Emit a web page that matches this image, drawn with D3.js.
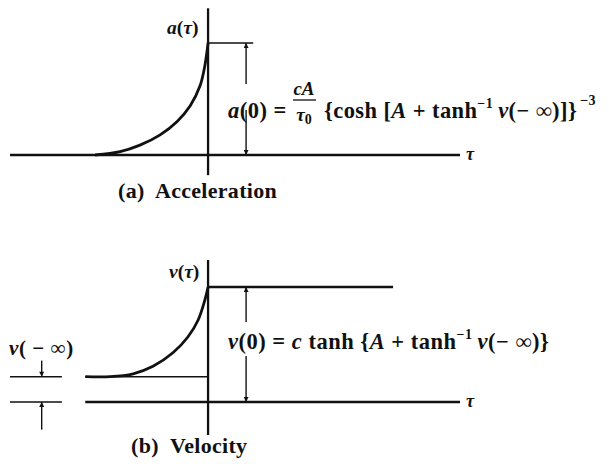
<!DOCTYPE html>
<html>
<head>
<meta charset="utf-8">
<script src="https://cdn.jsdelivr.net/npm/d3@7"></script>
<style>
  html, body { margin: 0; padding: 0; background: #fff; }
  svg { display: block; }
</style>
</head>
<body>
<svg id="chart" width="609" height="464"></svg>
<script>
// Proper time τ (in units of τ0) where the sampled curves are read
const accelTau = [-2.85, -2.22, -1.72, -1.21, -0.78, -0.45, -0.2, -0.08, 0];
// Normalised acceleration a(τ)/a(0)
const accelVal = [0, 0.03, 0.088, 0.18, 0.3, 0.44, 0.62, 0.8, 1];

const velTau = [-3.1, -2.47, -1.89, -1.39, -0.88, -0.51, -0.25, -0.08, 0];
// Normalised velocity v(τ)/v(0)
const velVal = [0.22, 0.22, 0.245, 0.31, 0.43, 0.565, 0.713, 0.887, 1];

const vMinusInf = 0.22;          // initial velocity level v(−∞)
const tauRange = [-5, 6.36];     // horizontal extent of the τ axes
const velAxisStart = -3.1;       // τ where the velocity axis line begins
const accelTopEnd = 1.14;        // end of the a(0) reference line
const velTopEnd = 4.67;          // end of the v(0) plateau
const dimTau = 0.96;             // τ of the dimension arrows
const legendTau = [-5, -3.69];   // left reference ticks for v(−∞)
const legendArrowTau = -4.2;

const svg = d3.select("#chart");
const FONT = "'Liberation Serif', 'Times New Roman', Times, 'DejaVu Serif', serif";
const INK = "#111";

const x = d3.scaleLinear().domain(tauRange).range([10, 460]);
const yA = d3.scaleLinear().domain([0, 1]).range([155, 43]);
const yV = d3.scaleLinear().domain([0, 1]).range([402, 287]);

// arrow heads
svg.append("defs").append("marker")
  .attr("id", "arr")
  .attr("viewBox", "0 0 10 10")
  .attr("refX", 10).attr("refY", 5)
  .attr("markerWidth", 7).attr("markerHeight", 5)
  .attr("markerUnits", "userSpaceOnUse")
  .attr("orient", "auto-start-reverse")
  .append("path").attr("d", "M0,0 L10,5 L0,10 Z").attr("fill", INK);

const line = (xs, ys, w) => svg.append("line")
  .attr("x1", xs[0]).attr("x2", xs[1]).attr("y1", ys[0]).attr("y2", ys[1])
  .attr("stroke", INK).attr("stroke-width", w);

const text = (xp, yp, size, spacing = 0) => svg.append("text")
  .attr("x", xp).attr("y", yp).attr("font-size", size)
  .attr("font-family", FONT).attr("font-weight", "bold")
  .attr("letter-spacing", spacing).attr("fill", INK)
  .attr("xml:space", "preserve");

const it = (sel, s) => sel.append("tspan").attr("font-style", "italic").text(s);
const rm = (sel, s) => sel.append("tspan").text(s);

const curve = d3.line().curve(d3.curveCatmullRom.alpha(0.5));

// ---------- (a) Acceleration ----------
line([x(tauRange[0]), x(tauRange[1])], [yA(0), yA(0)], 2.3);
line([x(0), x(0)], [yA(1.31), yA(-0.18)], 2.3);
line([x(0), x(accelTopEnd)], [yA(1), yA(1)], 1.6);
// dimension arrow, broken where the equation crosses it
line([x(dimTau), x(dimTau)], [84, yA(1)], 1.4).attr("marker-end", "url(#arr)");
line([x(dimTau), x(dimTau)], [110, yA(0)], 1.4).attr("marker-end", "url(#arr)");

svg.append("path")
  .attr("d", curve(accelTau.map((t, i) => [x(t), yA(accelVal[i])])))
  .attr("fill", "none").attr("stroke", INK).attr("stroke-width", 2.8);

const lab = text(167, 34, 19.5);
it(lab, "a"); rm(lab, "("); it(lab, "τ"); rm(lab, ")");

text(466, 160, 18).attr("font-style", "italic").text("τ");

// a(0) equation
const eqA = text(228, 118, 22.5, 0.5);
it(eqA, "a"); rm(eqA, "(0) =");

const num = text(304, 95, 19).attr("text-anchor", "middle");
it(num, "cA");
line([293, 316], [100, 100], 1.3);
const den = text(304, 121, 19).attr("text-anchor", "middle");
it(den, "τ");
den.append("tspan").attr("font-size", 14).attr("dy", 3).text("0");

const eqA2 = text(324, 118, 22.5, 0.4);
rm(eqA2, "{cosh [");
it(eqA2, "A");
rm(eqA2, " + tanh");
eqA2.append("tspan").attr("font-size", 14).attr("dy", -10).text("−1");
eqA2.append("tspan").attr("font-style", "italic").attr("dy", 10).attr("dx", 5).text("v");
rm(eqA2, "(− ∞)]}");
eqA2.append("tspan").attr("font-size", 14).attr("dy", -13).attr("dx", 3).text("−3");

text(118, 198, 22, 0.3).text("(a)  Acceleration");

// ---------- (b) Velocity ----------
line([x(velAxisStart), x(tauRange[1])], [yV(0), yV(0)], 2.3);
line([x(0), x(0)], [yV(1.235), yV(-0.287)], 2.3);
line([x(velAxisStart), x(0)], [yV(vMinusInf), yV(vMinusInf)], 1.6);
line([x(0), x(velTopEnd)], [yV(1), yV(1)], 2.6);
line([x(dimTau), x(dimTau)], [322, yV(1)], 1.4).attr("marker-end", "url(#arr)");
line([x(dimTau), x(dimTau)], [356, yV(0)], 1.4).attr("marker-end", "url(#arr)");

svg.append("path")
  .attr("d", curve(velTau.map((t, i) => [x(t), yV(velVal[i])])))
  .attr("fill", "none").attr("stroke", INK).attr("stroke-width", 2.8);

// v(−∞) reference ticks on the left
line([x(legendTau[0]), x(legendTau[1])], [yV(vMinusInf), yV(vMinusInf)], 1.6);
line([x(legendTau[0]), x(legendTau[1])], [yV(0), yV(0)], 1.6);
line([x(legendArrowTau), x(legendArrowTau)], [yV(vMinusInf + 0.14), yV(vMinusInf)], 1.4)
  .attr("marker-end", "url(#arr)");
line([x(legendArrowTau), x(legendArrowTau)], [yV(-0.24), yV(0)], 1.4)
  .attr("marker-end", "url(#arr)");

const vinf = text(9, 355, 21, 0.6);
it(vinf, "v"); rm(vinf, "( − ∞)");

const labV = text(169, 278, 19.5);
it(labV, "v"); rm(labV, "("); it(labV, "τ"); rm(labV, ")");

text(466, 407, 18).attr("font-style", "italic").text("τ");

const eqV = text(228, 349, 22.5, 0.5);
it(eqV, "v"); rm(eqV, "(0) = "); it(eqV, "c");
rm(eqV, " tanh {"); it(eqV, "A"); rm(eqV, " + tanh");
eqV.append("tspan").attr("font-size", 14).attr("dy", -10).text("−1");
eqV.append("tspan").attr("font-style", "italic").attr("dy", 10).attr("dx", 5).text("v");
rm(eqV, "(− ∞)}");

text(131, 453, 22, 0.3).text("(b)  Velocity");
</script>
</body>
</html>
